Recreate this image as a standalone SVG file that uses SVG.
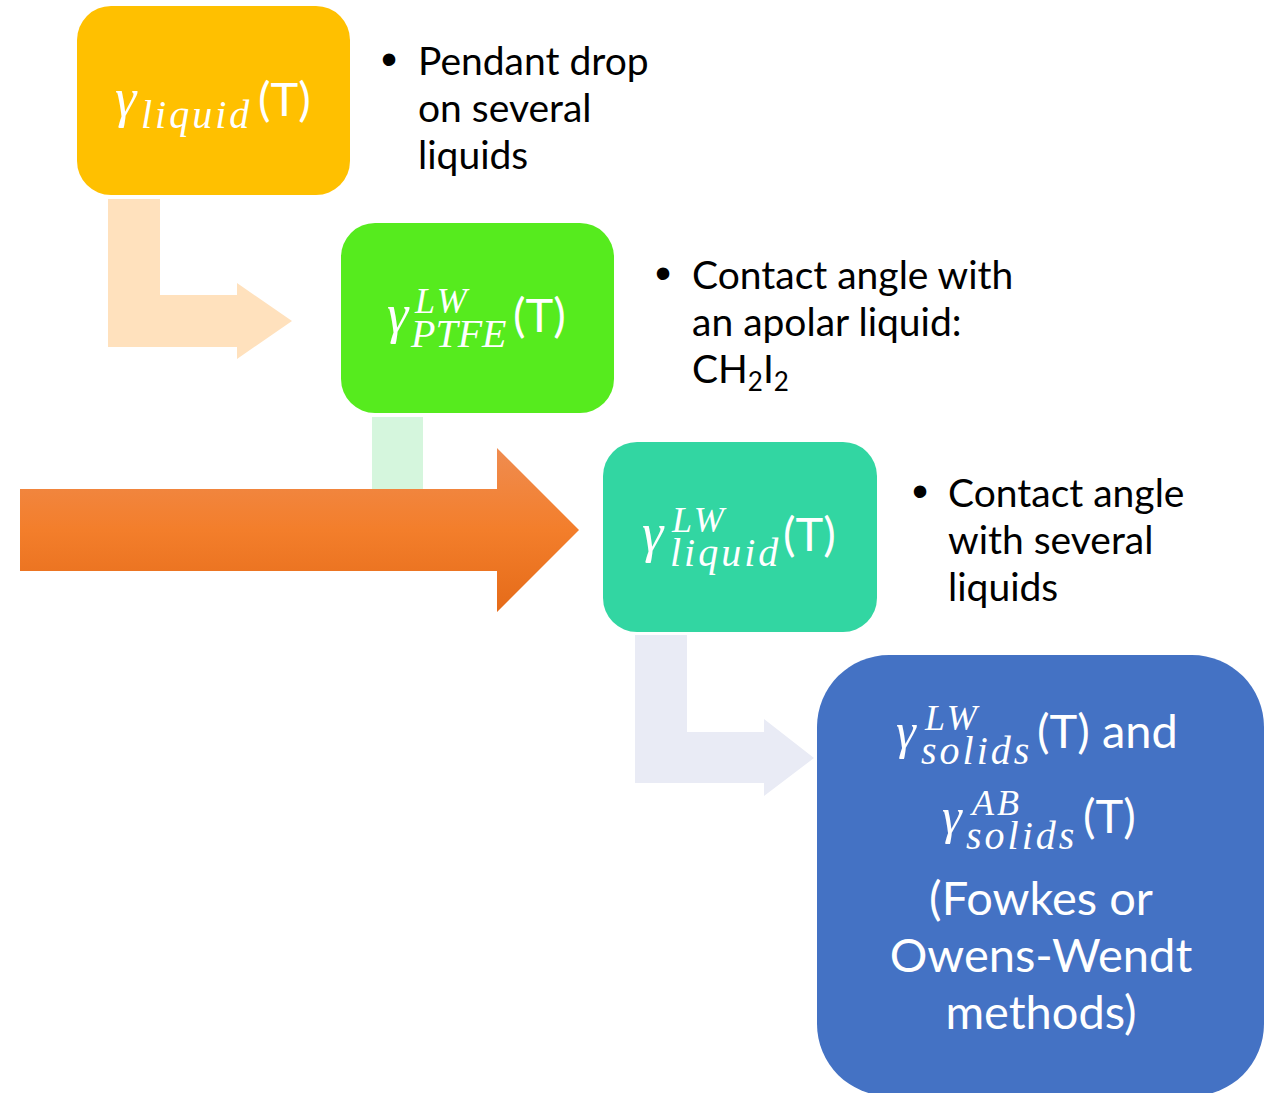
<svg xmlns="http://www.w3.org/2000/svg" width="1268" height="1093" viewBox="0 0 1268 1093">
<defs>
<linearGradient id="og" x1="0" y1="0" x2="0" y2="1">
<stop offset="0" stop-color="#EF8C50"/>
<stop offset="0.5" stop-color="#F37E2B"/>
<stop offset="1" stop-color="#E56B19"/>
</linearGradient>
<style>
.sans{font-family:Lato,"Noto Sans",sans-serif;}
.math{font-family:"Liberation Serif",serif;font-style:italic;}
.w{fill:#FFFFFF;}
.blk{fill:#000000;font-size:39px;}
.bul{font-family:"Liberation Sans",sans-serif;font-size:46px;fill:#000000;}
.sub{font-size:40px;letter-spacing:3px;}
.sup{font-size:36px;letter-spacing:3px;}
</style>
</defs>
<rect width="1268" height="1093" fill="#FFFFFF"/>
<g id="connectors">
<polygon id="c1" fill="#FFE1BD" points="108,199 160,199 160,295 237,295 237,283 292,321 237,359 237,347 108,347"/>
<polygon id="c2" fill="#D5F6DD" points="372,417 423,417 423,508 460,508 460,498 492,534 460,570 460,560 372,560"/>
<polygon id="c3" fill="#E9EBF5" points="635,635 687,635 687,732 764,732 764,719 814,758 764,796 764,783 635,783"/>
</g>
<g id="bigarrow">
<polygon fill="url(#og)" points="20,489 497,489 497,448 579,530 497,612 497,571 20,571"/>
</g>
<g id="node1">
<rect x="77" y="6" width="273" height="189" rx="34" fill="#FFC000"/>
<text class="w"><tspan class="math" x="115" y="116" font-size="54">γ</tspan><tspan class="math sub" x="141" y="128">liquid</tspan><tspan class="sans" x="258" y="116" font-size="47">(T)</tspan></text>
</g>
<g id="node2">
<rect x="341" y="223" width="273" height="190" rx="34" fill="#56EB1E"/>
<text class="w"><tspan class="math" x="387" y="332" font-size="54">γ</tspan><tspan class="math sup" x="415" y="313">LW</tspan><tspan class="math" x="411" y="347" font-size="40">PTFE</tspan><tspan class="sans" x="513" y="332" font-size="47">(T)</tspan></text>
</g>
<g id="node3">
<rect x="603" y="442" width="274" height="190" rx="34" fill="#32D6A2"/>
<text class="w"><tspan class="math" x="642" y="551" font-size="54">γ</tspan><tspan class="math sup" x="672" y="532">LW</tspan><tspan class="math sub" x="670" y="566">liquid</tspan><tspan class="sans" x="783" y="551" font-size="47">(T)</tspan></text>
</g>
<g id="node4">
<rect x="817" y="655" width="447" height="441" rx="72" fill="#4472C4"/>
<text class="w"><tspan class="math" x="896" y="748" font-size="50">γ</tspan><tspan class="math sup" x="925" y="730">LW</tspan><tspan class="math sub" x="921" y="764">solids</tspan><tspan class="sans" x="1037" y="748" font-size="47">(T) and</tspan></text>
<text class="w"><tspan class="math" x="942" y="833" font-size="50">γ</tspan><tspan class="math sup" x="972" y="815" letter-spacing="1">AB</tspan><tspan class="math sub" x="966" y="849">solids</tspan><tspan class="sans" x="1083" y="833" font-size="47">(T)</tspan></text>
<text class="sans w" font-size="47" text-anchor="middle"><tspan x="1041" y="915">(Fowkes or</tspan><tspan x="1041" y="972">Owens-Wendt</tspan><tspan x="1041" y="1029">methods)</tspan></text>
</g>
<g id="note1">
<text class="bul" x="381" y="75">•</text>
<text class="sans blk"><tspan x="418" y="75">Pendant drop</tspan><tspan x="418" y="122">on several</tspan><tspan x="418" y="169">liquids</tspan></text>
</g>
<g id="note2">
<text class="bul" x="655" y="289">•</text>
<text class="sans blk"><tspan x="692" y="289">Contact angle with</tspan><tspan x="692" y="336">an apolar liquid:</tspan><tspan x="692" y="383">CH<tspan font-size="26" dy="8">2</tspan><tspan dy="-8">I</tspan><tspan font-size="26" dy="8">2</tspan></tspan></text>
</g>
<g id="note3">
<text class="bul" x="912" y="507">•</text>
<text class="sans blk"><tspan x="948" y="507">Contact angle</tspan><tspan x="948" y="554">with several</tspan><tspan x="948" y="601">liquids</tspan></text>
</g>
</svg>
